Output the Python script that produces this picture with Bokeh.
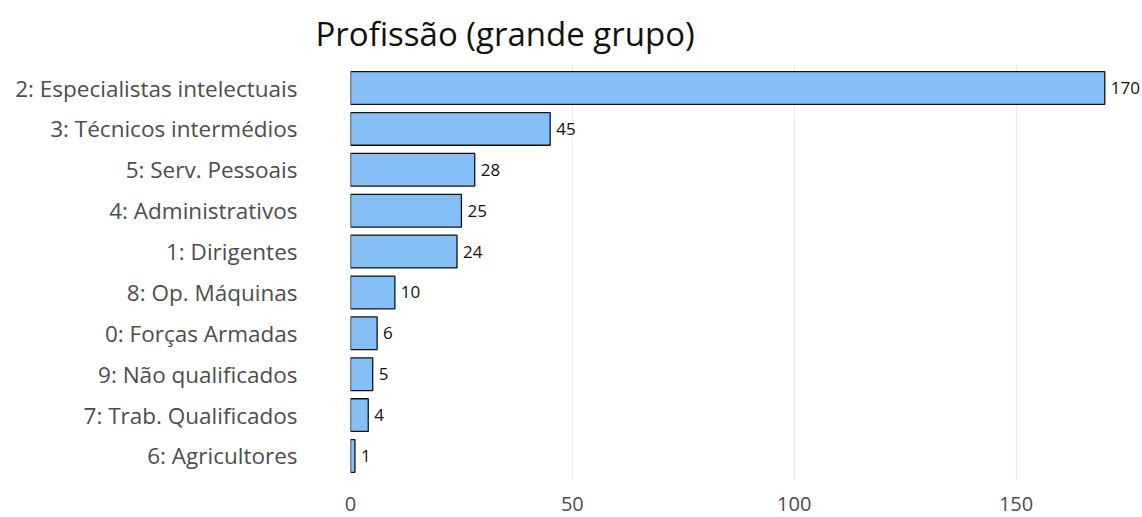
from bokeh.plotting import figure
from bokeh.models import ColumnDataSource, FactorRange, Range1d, LabelSet, Title, FixedTicker
from bokeh.core.properties import value
from bokeh.embed import file_html
from bokeh.resources import INLINE

categories = ["2: Especialistas intelectuais", "3: Técnicos intermédios", "5: Serv. Pessoais",
              "4: Administrativos", "1: Dirigentes", "8: Op. Máquinas", "0: Forças Armadas",
              "9: Não qualificados", "7: Trab. Qualificados", "6: Agricultores"]
counts = [170, 45, 28, 25, 24, 10, 6, 5, 4, 1]
x_ticks = [0, 50, 100, 150]
title_text = "Profissão (grande grupo)"

FONT = "Open Sans"

src = ColumnDataSource(dict(cat=categories, n=counts, lab=[str(v) for v in counts]))

p = figure(width=1142, height=517, output_backend="svg", toolbar_location=None,
           y_range=FactorRange(factors=list(reversed(categories)), range_padding=0.1,
                               range_padding_units="absolute"),
           x_range=Range1d(0, 178.5),
           min_border_left=350, min_border_right=0, min_border_top=63, min_border_bottom=37)

p.hbar(y="cat", right="n", left=0, height=0.8, source=src,
       fill_color="#86BFF6", line_color="#111111", line_width=1.3)

labels = LabelSet(x="n", y="cat", text="lab", source=src, x_offset=6,
                  text_baseline="middle", text_align="left", text_font_size="17px",
                  text_font=value(FONT), text_color="#111111")
p.add_layout(labels)

p.title = Title(text=title_text, text_font=FONT, text_font_size="33px",
                text_font_style="normal", text_color="#111111", align="left",
                offset=-35, standoff=15)

p.xaxis.ticker = FixedTicker(ticks=x_ticks)
p.xaxis.axis_line_color = None
p.xaxis.major_tick_line_color = None
p.xaxis.minor_tick_line_color = None
p.xaxis.major_label_text_font = FONT
p.xaxis.major_label_text_font_size = "20px"
p.xaxis.major_label_text_color = "#4D4D4D"
p.xaxis.major_label_standoff = 10

p.yaxis.axis_line_color = None
p.yaxis.major_tick_line_color = None
p.yaxis.minor_tick_line_color = None
p.yaxis.major_label_text_font = FONT
p.yaxis.major_label_text_font_size = "22.5px"
p.yaxis.major_label_text_color = "#4D4D4D"
p.yaxis.major_label_standoff = 47

p.ygrid.grid_line_color = None
p.xgrid.grid_line_color = "#EBEBEB"
p.xgrid.grid_line_width = 1.2
p.outline_line_color = None

open("out.html", "w").write(file_html(p, INLINE))
